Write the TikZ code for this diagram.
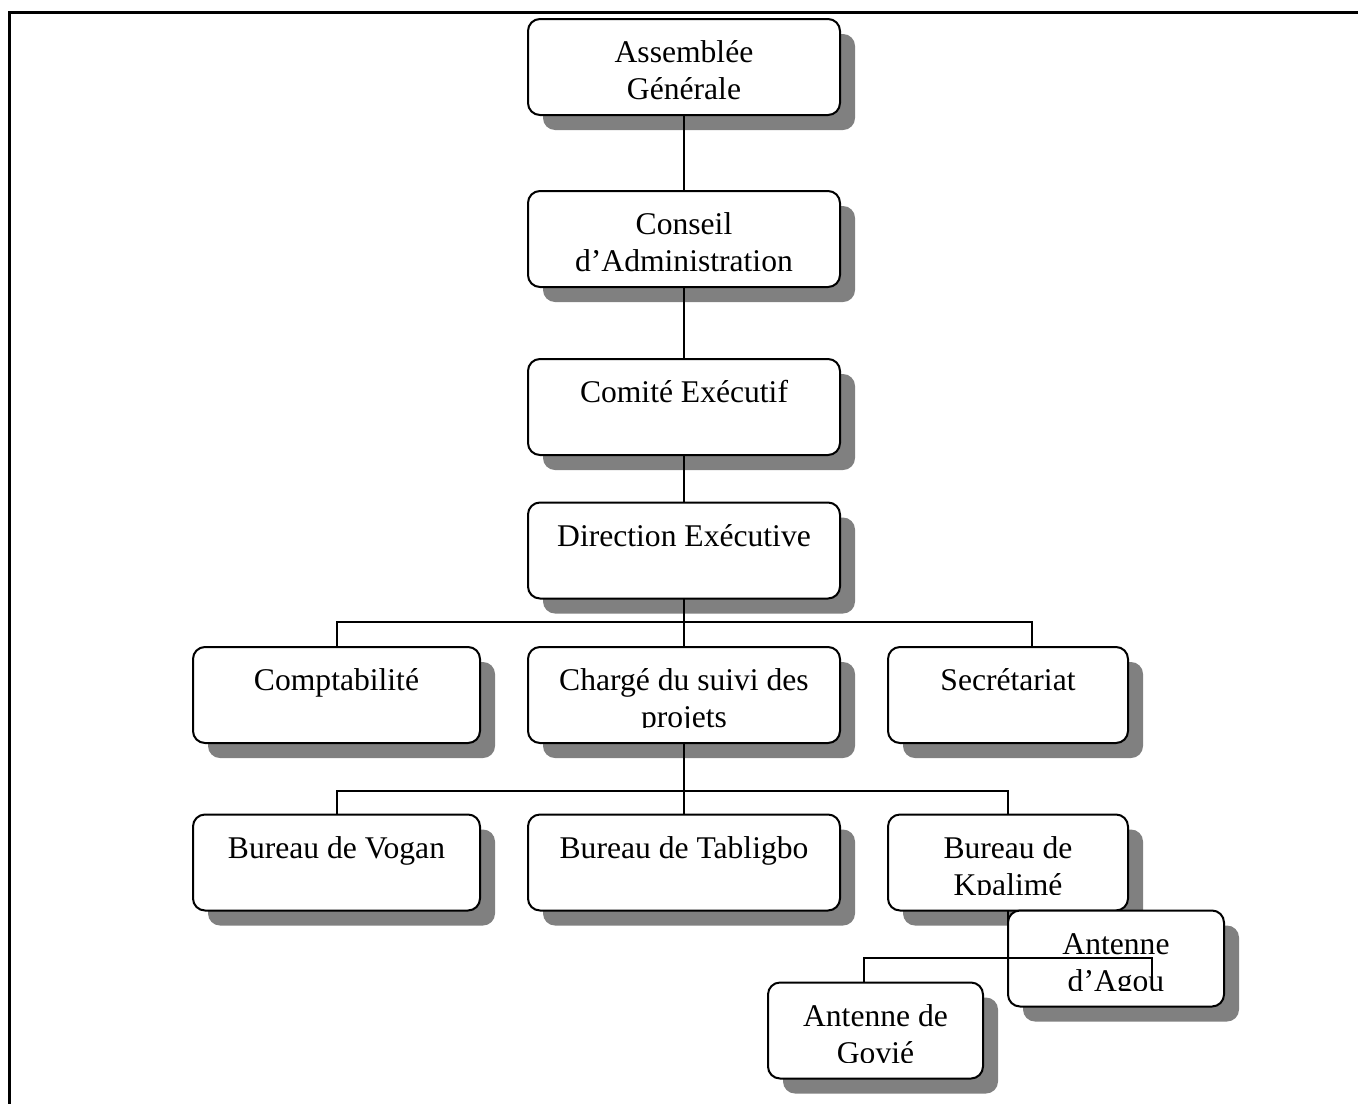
\documentclass[tikz,border=0pt]{standalone}
\usepackage{fontspec}
\setmainfont{Liberation Serif}
\usetikzlibrary{shadows}
\definecolor{shadowgray}{RGB}{128,128,128}
\tikzset{
  orgbox/.style={draw=black, line width=1pt, rounded corners=6pt, fill=white,
    minimum width=#1, minimum height=48pt, inner sep=0pt, outer sep=0pt,
    drop shadow={shadow xshift=7.5pt, shadow yshift=-7.5pt, fill=shadowgray, opacity=1}},
  orgtext/.style={inner sep=0pt, outer sep=0pt, font=\fontsize{15.8pt}{18.5pt}\selectfont},
  link/.style={draw=black, line width=1pt},
  frameline/.style={draw=black, line width=1.5pt}
}
% label of a box: top-aligned, cut off at the lower text margin
\newcommand{\orglabel}[2]{%
  \begin{scope}
    \clip (#1.north west) rectangle ([yshift=-40pt]#1.north east);
    \node[orgtext, anchor=base] (#1-txt) at ([yshift=-21.9pt]#1.north)
      {\parbox[t]{10cm}{\centering #2}};
  \end{scope}}
\begin{document}
\begin{tikzpicture}[x=0.5pt, y=-0.5pt]
  \useasboundingbox (0,0) rectangle (1358,1103);
  \clip (0,0) rectangle (1358,1103);
  \fill[white] (0,0) rectangle (1358,1103);
  % page frame
  \draw[frameline] (9,1200) -- (9,12) -- (1450,12);

  % boxes
  \node[orgbox=156pt]   (ag)     at (684,67)      {};
  \node[orgbox=156pt]   (ca)     at (684,239)     {};
  \node[orgbox=156pt]   (ce)     at (684,407)     {};
  \node[orgbox=156pt]   (de)     at (684,550.5)   {};
  \node[orgbox=143.5pt] (compta) at (336.5,695)   {};
  \node[orgbox=156pt]   (charge) at (684,695)     {};
  \node[orgbox=120pt]   (secr)   at (1008,695)    {};
  \node[orgbox=143.5pt] (vogan)  at (336.5,862.5) {};
  \node[orgbox=156pt]   (tab)    at (684,862.5)   {};
  \node[orgbox=120pt]   (kpal)   at (1008,862.5)  {};
  \node[orgbox=108pt]   (agou)   at (1116,958.5)  {};
  \node[orgbox=107.5pt] (govie)  at (875.5,1030.5){};

  % labels
  \orglabel{ag}{Assemblée\\Générale}
  \orglabel{ca}{Conseil\\d’Administration}
  \orglabel{ce}{Comité Exécutif}
  \orglabel{de}{Direction Exécutive}
  \orglabel{compta}{Comptabilité}
  \orglabel{charge}{Chargé du suivi des\\projets}
  \orglabel{secr}{Secrétariat}
  \orglabel{vogan}{Bureau de Vogan}
  \orglabel{tab}{Bureau de Tabligbo}
  \orglabel{kpal}{Bureau de\\Kpalimé}
  \orglabel{agou}{Antenne\\d’Agou}
  \orglabel{govie}{Antenne de\\Govié}

  % connectors
  \draw[link] (ag.south) -- (ca.north);
  \draw[link] (ca.south) -- (ce.north);
  \draw[link] (ce.south) -- (de.north);

  \coordinate (busA) at (684,622);
  \draw[link] (de.south) -- (charge.north);
  \draw[link] (compta.north) |- (busA);
  \draw[link] ([xshift=12pt]secr.north) |- (busA);

  \coordinate (busB) at (684,791);
  \draw[link] (charge.south) -- (tab.north);
  \draw[link] (vogan.north) |- (busB);
  \draw[link] (kpal.north) |- (busB);

  \coordinate (busC) at (1008,958);
  \coordinate (agoutip) at (1152,983);
  \draw[link] (kpal.south) -- (busC);
  \draw[link] ([xshift=-5.75pt]govie.north) |- (busC);
  \draw[link] (agoutip) |- (busC);
\end{tikzpicture}
\end{document}
